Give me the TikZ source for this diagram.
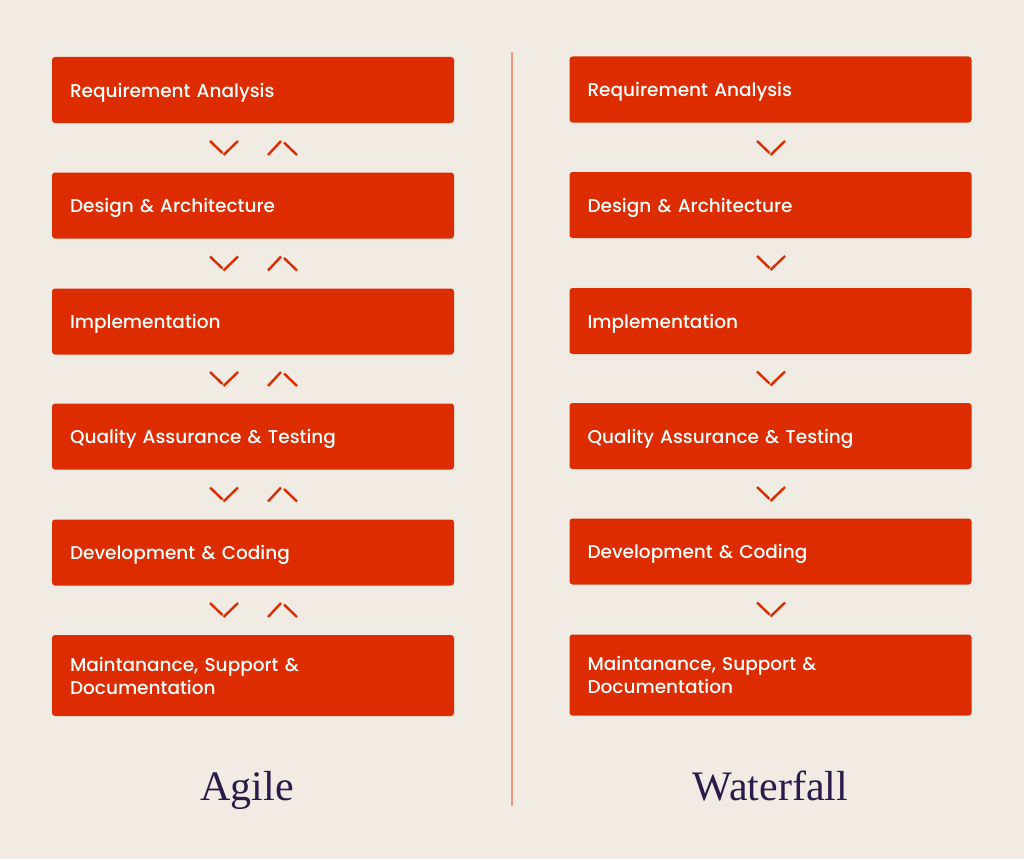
\documentclass[tikz,border=0pt]{standalone}
\usepackage{fontspec}
\IfFontExistsTF{Poppins Medium}{\setmainfont{Poppins Medium}}{\setmainfont{Poppins}}
\newfontfamily\titlefont{Liberation Serif}
\definecolor{paper}{RGB}{240,235,227}
\definecolor{boxred}{RGB}{221,44,0}
\definecolor{rulepink}{RGB}{242,150,128}
\definecolor{titleink}{RGB}{43,27,75}
\tikzset{
  stagebox/.style={fill=boxred, rounded corners=3pt, text=white, minimum width=402, minimum height=66,
    text width=366, inner xsep=18, inner ysep=0, text height=14, text depth=0, align=left,
    font=\fontsize{18.5}{23}\selectfont},
  twoline/.style={minimum height=81, text depth=23},
  chevron/.style={draw=boxred, line width=2.4},
  title/.style={text=titleink, anchor=base, font=\titlefont\fontsize{42}{46}\selectfont}
}
\begin{document}
\begin{tikzpicture}[x=1pt,y=1pt,yscale=-1]
%set diagram size: 1024 x 859
\fill[paper] (0,0) rectangle (1024,859);
\useasboundingbox (0,0) rectangle (1024,859);

%Straight Lines: separator
\coordinate (septop) at (512,52);
\coordinate (sepbot) at (512,806);
\draw[rulepink, line width=1.3] (septop) -- (sepbot);

% Agile column
\node[stagebox] (agreq) at (253,90) {Requirement Analysis};
\node[stagebox] (agdes) at (253,205.5) {Design \& Architecture};
\node[stagebox] (agimp) at (253,321.5) {Implementation};
\node[stagebox] (agqa) at (253,436.5) {Quality Assurance \& Testing};
\node[stagebox] (agdev) at (253,552.5) {Development \& Coding};
\node[stagebox, twoline] (agmnt) at (253,675.5) {Maintanance, Support \&\\Documentation};

% Waterfall column
\node[stagebox] (wfreq) at (770.5,89.5) {Requirement Analysis};
\node[stagebox] (wfdes) at (770.5,205) {Design \& Architecture};
\node[stagebox] (wfimp) at (770.5,321) {Implementation};
\node[stagebox] (wfqa) at (770.5,436) {Quality Assurance \& Testing};
\node[stagebox] (wfdev) at (770.5,551.5) {Development \& Coding};
\node[stagebox, twoline] (wfmnt) at (770.5,675) {Maintanance, Support \&\\Documentation};

%Chevrons: Agile, down and up
\draw[chevron] (210,141) -- (222.5,153) (223.5,155) -- (238,141);
\draw[chevron] (268,155) -- (281,141) (284,142.5) -- (297,155);
\draw[chevron] (210,256.5) -- (222.5,268.5) (223.5,270.5) -- (238,256.5);
\draw[chevron] (268,270.5) -- (281,256.5) (284,258) -- (297,270.5);
\draw[chevron] (210,372) -- (222.5,384) (223.5,386) -- (238,372);
\draw[chevron] (268,386) -- (281,372) (284,373.5) -- (297,386);
\draw[chevron] (210,487.5) -- (222.5,499.5) (223.5,501.5) -- (238,487.5);
\draw[chevron] (268,501.5) -- (281,487.5) (284,489) -- (297,501.5);
\draw[chevron] (210,603) -- (222.5,615) (223.5,617) -- (238,603);
\draw[chevron] (268,617) -- (281,603) (284,604.5) -- (297,617);

%Chevrons: Waterfall, down only
\draw[chevron] (757,141) -- (769.5,153) (770.5,155) -- (785,141);
\draw[chevron] (757,256) -- (769.5,268) (770.5,270) -- (785,256);
\draw[chevron] (757,371.5) -- (769.5,383.5) (770.5,385.5) -- (785,371.5);
\draw[chevron] (757,487) -- (769.5,499) (770.5,501) -- (785,487);
\draw[chevron] (757,602.5) -- (769.5,614.5) (770.5,616.5) -- (785,602.5);

% Text Node: titles
\node[title] (agile) at (247,800) {Agile};
\node[title] (waterfall) at (770.5,800) {Waterfall};

\end{tikzpicture}
\end{document}
